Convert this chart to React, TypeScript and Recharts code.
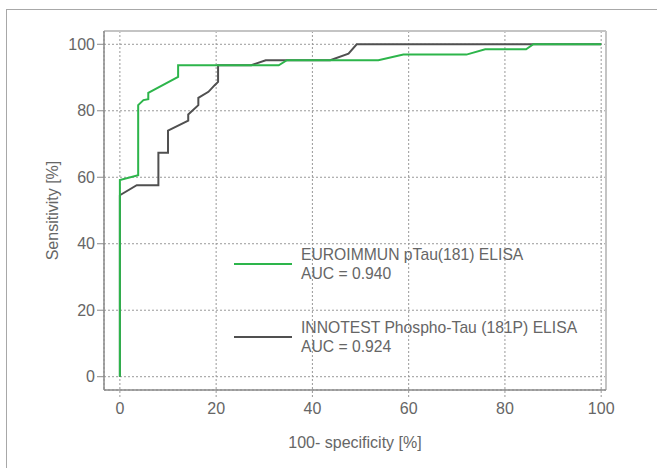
import { LineChart, Line, XAxis, YAxis, CartesianGrid, Legend, ReferenceLine, Label } from "recharts";

// ROC curve points (x = 100 - specificity, y = sensitivity)
const euroX = [0, 0, 3.8, 3.8, 4.9, 5.9, 5.9, 12.1, 12.1, 33, 34.7, 53.7, 58.9, 72, 75.9, 84.4, 85.9, 100];
const euroY = [0, 59.2, 60.6, 81.7, 83.2, 83.5, 85.4, 90.2, 93.7, 93.7, 95.2, 95.2, 96.9, 96.9, 98.5, 98.5, 100, 100];

const innoX = [0, 0, 3.5, 8, 8, 10, 10, 14.2, 14.2, 16.3, 16.3, 18.4, 19.7, 20.4, 20.4, 27.3, 30.3, 43.7, 47.5, 49.2, 100];
const innoY = [0, 54.6, 57.6, 57.6, 67.4, 67.4, 74, 77, 78.9, 81.7, 83.9, 85.7, 87.7, 88.7, 93.7, 93.7, 95.2, 95.2, 97.2, 100, 100];

const seriesNames = ["EUROIMMUN pTau(181) ELISA", "INNOTEST Phospho-Tau (181P) ELISA"];
const aucValues = ["0.940", "0.924"];
const xTicks = [0, 20, 40, 60, 80, 100];
const yTicks = [0, 20, 40, 60, 80, 100];

const euroData = euroX.map((x, i) => ({ x, y: euroY[i] }));
const innoData = innoX.map((x, i) => ({ x, y: innoY[i] }));

const TXT = "#666";
const GRID = "#999";
const BOX = "#8a8a8a";
const BOX_LIGHT = "#c4c4c4";

function RocLegend({ payload }: any) {
  return (
    <div style={{ color: TXT, fontSize: 15.7 }}>
      {(payload || []).map((p: any, i: number) => (
        <div key={i} style={{ display: "flex", alignItems: "center", marginBottom: i === 0 ? 35 : 0 }}>
          <div style={{ width: 58, height: 0, borderTop: `2.5px solid ${p.color}`, marginRight: 9 }} />
          <div style={{ lineHeight: "19px", textAlign: "left" }}>
            <div>{p.value}</div>
            <div>AUC = {aucValues[i]}</div>
          </div>
        </div>
      ))}
    </div>
  );
}

export default function App() {
  return (
    <div style={{ position: "fixed", left: 0, top: 0, width: 657, height: 468, background: "#fff", overflow: "hidden", fontFamily: "'Liberation Sans', Arial, sans-serif" }}>
      {/* outer frame, only top and left edges are visible */}
      <div style={{ position: "absolute", left: 6, top: 9, width: 651, height: 459, borderTop: "1.5px solid #a8a8a8", borderLeft: "1.5px solid #a8a8a8" }} />
      <div style={{ position: "absolute", left: 0, top: 0 }}>
        <LineChart width={657} height={468} margin={{ top: 31, right: 51, left: 0, bottom: 0 }}>
          <CartesianGrid stroke={GRID} strokeDasharray="2 2" />
          <XAxis
            type="number"
            dataKey="x"
            domain={[-3.3, 101]}
            ticks={xTicks}
            allowDataOverflow
            height={78}
            axisLine={{ stroke: BOX, strokeWidth: 1.5 }}
            tickLine={{ stroke: GRID, strokeDasharray: "2 2" }}
            tickSize={7}
            tickMargin={6}
            tick={{ fill: TXT, fontSize: 16 }}
          >
            <Label value="100- specificity [%]" position="insideBottom" offset={20} fill={TXT} fontSize={16} />
          </XAxis>
          <YAxis
            type="number"
            dataKey="y"
            domain={[-4, 104]}
            ticks={yTicks}
            allowDataOverflow
            width={104}
            axisLine={{ stroke: BOX, strokeWidth: 1.5 }}
            tickLine={{ stroke: BOX }}
            tickSize={7}
            tickMargin={2}
            tick={{ fill: TXT, fontSize: 16 }}
          >
            <Label value="Sensitivity [%]" angle={-90} position="center" fill={TXT} fontSize={16} />
          </YAxis>
          <ReferenceLine y={104} stroke={BOX_LIGHT} strokeWidth={2} />
          <ReferenceLine x={101} stroke={BOX_LIGHT} strokeWidth={2} />
          <Legend
            layout="horizontal"
            verticalAlign="middle"
            align="center"
            content={<RocLegend />}
            wrapperStyle={{ left: 234, top: 245, width: 400 }}
          />
          <Line data={innoData} dataKey="y" name={seriesNames[1]} stroke="#505050" strokeWidth={2} dot={false} type="linear" isAnimationActive={false} />
          <Line data={euroData} dataKey="y" name={seriesNames[0]} stroke="#2db54b" strokeWidth={2} dot={false} type="linear" isAnimationActive={false} />
        </LineChart>
      </div>
    </div>
  );
}
